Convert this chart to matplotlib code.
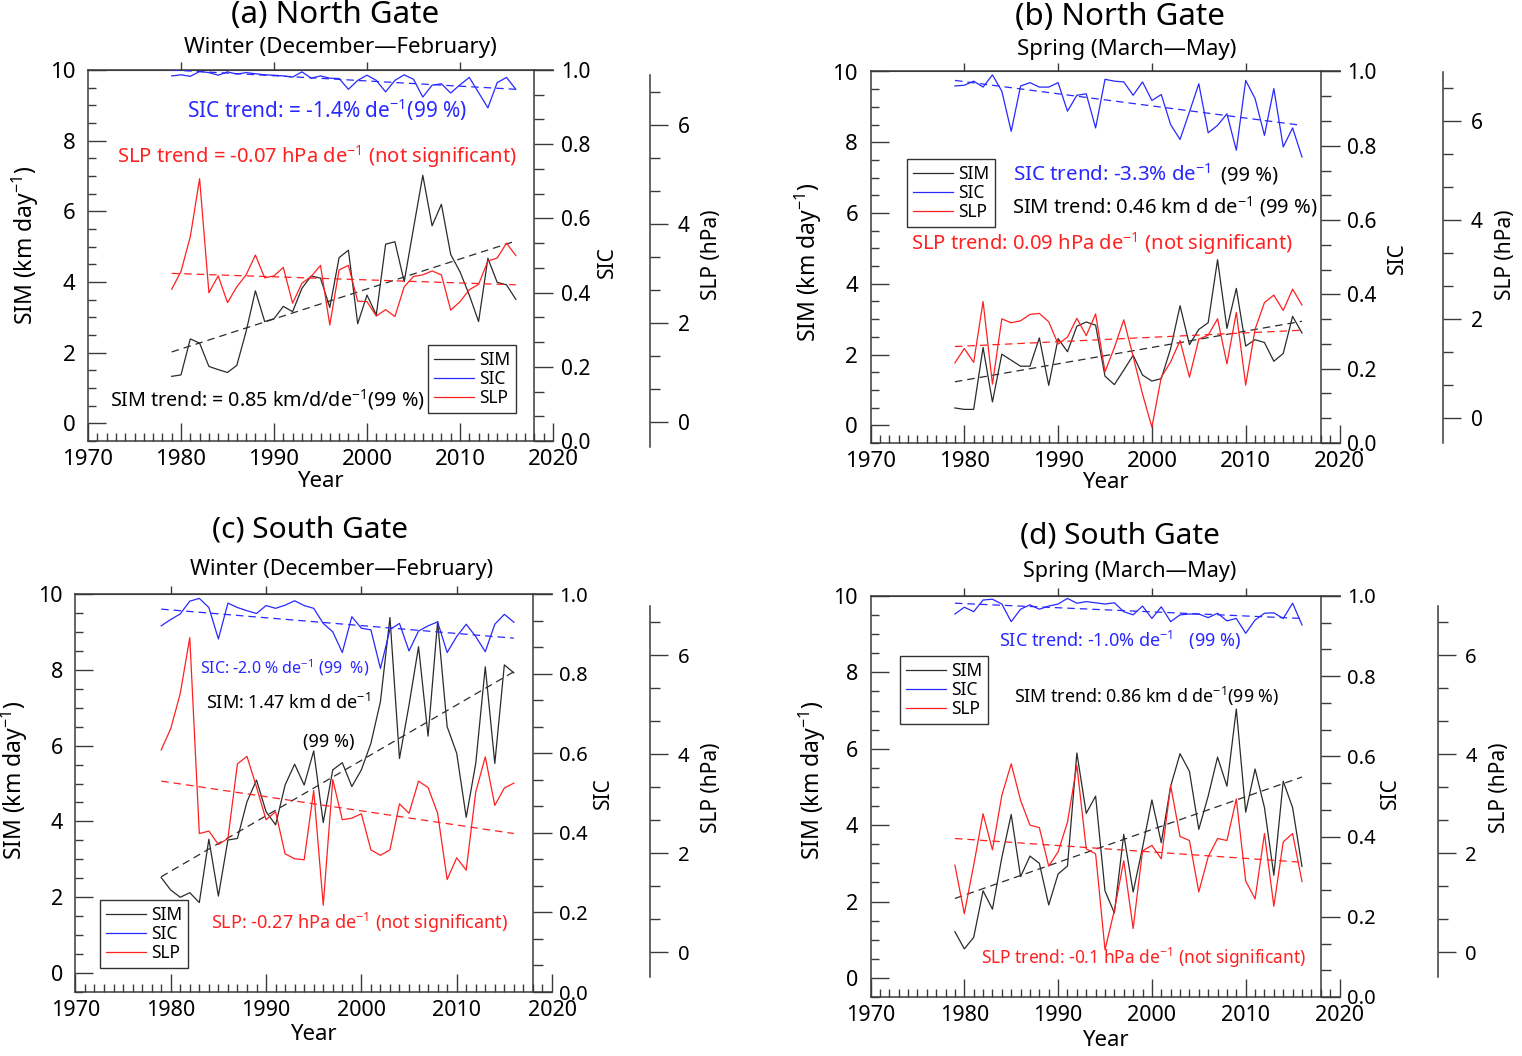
import matplotlib
matplotlib.use('Agg')
import matplotlib.pyplot as plt
from matplotlib.ticker import MultipleLocator, AutoMinorLocator, FormatStrFormatter
from matplotlib.lines import Line2D
import numpy as np

plt.rcParams['font.family'] = ['Noto Sans', 'DejaVu Sans']
plt.rcParams['mathtext.fontset'] = 'custom'
plt.rcParams['mathtext.rm'] = 'Noto Sans'
plt.rcParams['mathtext.it'] = 'Noto Sans:italic'
plt.rcParams['mathtext.default'] = 'regular'

W, H = 1522, 1056

#------------------------------------------------------------------------
# Data ------------------------------------------------------------------
#------------------------------------------------------------------------
years = np.arange(1979, 2017)
trend_years = [1979, 2016]

# (a) North Gate, winter
sim_a = [1.33, 1.37, 2.39, 2.27, 1.61, 1.52, 1.44, 1.64, 2.60, 3.75,
         2.88, 2.96, 3.31, 3.16, 3.82, 4.17, 4.11, 3.28, 4.69, 4.90,
         2.82, 3.63, 3.07, 5.07, 5.14, 4.01, 5.52, 7.02, 5.59, 6.20,
         4.78, 4.29, 3.63, 2.88, 4.67, 3.99, 3.92, 3.51]
sic_a = [0.984, 0.987, 0.983, 0.996, 0.993, 0.986, 0.995, 0.989, 0.993, 0.990,
         0.987, 0.986, 0.984, 0.981, 0.995, 0.978, 0.984, 0.978, 0.977, 0.948,
         0.972, 0.986, 0.972, 0.941, 0.972, 0.987, 0.975, 0.927, 0.959, 0.963,
         0.938, 0.960, 0.980, 0.939, 0.898, 0.966, 0.980, 0.948]
slp_a = [2.68, 3.04, 3.74, 4.91, 2.61, 2.95, 2.41, 2.73, 2.97, 3.37,
         2.91, 2.95, 3.12, 2.40, 2.80, 2.94, 3.16, 1.96, 3.07, 3.16,
         2.44, 2.43, 2.14, 2.27, 2.13, 2.73, 2.94, 2.97, 3.05, 2.97,
         2.26, 2.43, 2.67, 2.78, 3.25, 3.31, 3.61, 3.36]
sim_trend_a = [2.02, 5.16]
sic_trend_a = [1.000, 0.948]
slp_trend_a = [3.00, 2.77]

# (b) North Gate, spring
sim_b = [0.49, 0.45, 0.45, 2.20, 0.66, 2.01, 1.84, 1.67, 1.67, 2.47,
         1.13, 2.45, 2.08, 2.80, 2.92, 2.83, 1.39, 1.15, 1.56, 1.98,
         1.42, 1.25, 1.32, 2.17, 3.38, 2.28, 2.71, 2.90, 4.68, 2.74,
         3.87, 2.24, 2.42, 2.34, 1.81, 2.03, 3.08, 2.61]
sic_b = [0.961, 0.963, 0.974, 0.958, 0.991, 0.947, 0.839, 0.961, 0.970, 0.958,
         0.958, 0.970, 0.893, 0.936, 0.940, 0.848, 0.979, 0.974, 0.972, 0.936,
         0.972, 0.922, 0.938, 0.857, 0.817, 0.891, 0.967, 0.835, 0.855, 0.886,
         0.788, 0.976, 0.927, 0.828, 0.954, 0.797, 0.848, 0.770]
slp_b = [1.12, 1.41, 1.13, 2.36, 0.69, 2.01, 1.93, 1.97, 2.10, 2.12,
         1.95, 1.50, 1.64, 2.02, 1.67, 2.11, 0.94, 1.43, 1.99, 1.25,
         0.49, -0.18, 0.83, 1.14, 1.57, 0.83, 1.60, 1.68, 2.01, 1.10,
         2.14, 0.67, 1.80, 2.34, 2.49, 2.18, 2.61, 2.29]
sim_trend_b = [1.23, 2.94]
sic_trend_b = [0.976, 0.855]
slp_trend_b = [1.45, 1.78]

# (c) South Gate, winter
sim_c = [2.52, 2.19, 2.00, 2.12, 1.86, 3.53, 2.03, 3.51, 3.55, 4.52,
         5.09, 4.26, 3.91, 4.96, 5.51, 4.96, 5.86, 3.97, 5.36, 5.55,
         4.92, 5.36, 6.06, 7.16, 9.38, 5.66, 7.07, 8.61, 6.25, 9.27,
         6.50, 5.80, 4.11, 5.53, 8.08, 5.53, 8.13, 7.92]
sic_c = [0.920, 0.936, 0.950, 0.982, 0.989, 0.966, 0.887, 0.977, 0.966, 0.958,
         0.951, 0.971, 0.964, 0.972, 0.983, 0.971, 0.964, 0.926, 0.905, 0.853,
         0.943, 0.914, 0.910, 0.813, 0.911, 0.926, 0.857, 0.907, 0.920, 0.930,
         0.853, 0.893, 0.924, 0.893, 0.855, 0.924, 0.949, 0.929]
slp_c = [4.09, 4.52, 5.23, 6.36, 2.40, 2.45, 2.18, 2.30, 3.81, 3.96,
         3.34, 2.68, 2.84, 1.99, 1.89, 1.87, 3.27, 0.95, 3.49, 2.68,
         2.71, 2.80, 2.07, 1.96, 2.07, 3.00, 2.81, 3.46, 3.33, 2.81,
         1.47, 1.91, 1.66, 3.24, 3.95, 2.97, 3.32, 3.42]
sim_trend_c = [2.54, 7.95]
sic_trend_c = [0.962, 0.889]
slp_trend_c = [3.46, 2.40]

# (d) South Gate, spring
sim_d = [1.21, 0.76, 1.06, 2.28, 1.80, 3.15, 4.28, 2.65, 3.19, 3.00,
         1.91, 2.72, 2.93, 5.89, 4.31, 4.76, 2.28, 1.70, 3.76, 2.25,
         3.41, 4.66, 3.54, 5.02, 5.87, 5.41, 3.89, 4.76, 5.78, 5.02,
         7.04, 4.34, 5.47, 4.46, 2.69, 5.15, 4.46, 2.92]
sic_d = [0.955, 0.972, 0.961, 0.990, 0.992, 0.980, 0.936, 0.967, 0.978, 0.967,
         0.975, 0.980, 0.994, 0.982, 0.986, 0.983, 0.980, 0.983, 0.961, 0.953,
         0.975, 0.944, 0.973, 0.936, 0.953, 0.955, 0.955, 0.946, 0.957, 0.938,
         0.944, 0.907, 0.940, 0.957, 0.958, 0.944, 0.982, 0.928]
slp_d = [1.76, 0.78, 1.76, 2.80, 2.07, 3.17, 3.81, 3.07, 2.57, 2.52,
         1.74, 2.03, 2.63, 3.78, 2.09, 1.99, 0.05, 0.85, 1.85, 0.48,
         2.05, 2.16, 1.89, 3.37, 2.34, 2.26, 1.22, 1.93, 2.30, 2.26,
         3.10, 1.44, 1.08, 2.40, 0.93, 2.23, 2.40, 1.43]
sim_trend_d = [2.08, 5.26]
sic_trend_d = [0.982, 0.944]
slp_trend_d = [2.30, 1.82]

#------------------------------------------------------------------------
# Styles -----------------------------------------------------------------
#------------------------------------------------------------------------
c_sim = '#2b2b2b'
c_sic = '#2828ff'
c_slp = '#ff2020'
c_axis = '#3a3a3a'
dash = (0, (6, 4))

def rect(l, r, t, b):
    return [l/W, 1 - b/H, (r - l)/W, (b - t)/H]

def ftext(x, y, s, **kw):
    fig.text(x/W, 1 - y/H, s, **kw)

fig = plt.figure(figsize=(W/100, H/100), dpi=100)

def draw_panel(box, slp_box, slp_frac, sim, sic, slp, sim_tr, sic_tr, slp_tr,
               leg_xy, tick_fs):
    # SIM axis ----------------------------------------------------------
    ax = fig.add_axes(rect(*box))
    ax.plot(years, sim, color=c_sim, lw=0.9)
    ax.plot(trend_years, sim_tr, color=c_sim, lw=0.9, linestyle=dash)
    ax.set_xlim(1970, 2020)
    ax.set_ylim(-0.5, 10)
    ax.spines['right'].set_visible(False)
    for s in ['left', 'top', 'bottom']:
        ax.spines[s].set_color(c_axis)
        ax.spines[s].set_linewidth(1.1)
    ax.xaxis.set_major_locator(MultipleLocator(10))
    ax.xaxis.set_minor_locator(MultipleLocator(1))
    ax.yaxis.set_major_locator(MultipleLocator(2))
    ax.yaxis.set_minor_locator(MultipleLocator(0.5))
    ax.tick_params(axis='both', which='both', direction='in', color=c_axis,
                   right=False, top=False, labelsize=tick_fs, width=1.0)
    ax.tick_params(axis='both', which='major', length=13)
    ax.tick_params(axis='both', which='minor', length=6)
    ax.tick_params(axis='x', pad=6)
    ax.tick_params(axis='y', pad=9)
    top = ax.secondary_xaxis('top')
    top.set_xticks([1980, 1990, 2000, 2010])
    top.tick_params(direction='out', length=6, color=c_axis, labeltop=False, width=1.0)
    top.spines['top'].set_color(c_axis)

    # SIC axis ----------------------------------------------------------
    ax2 = ax.twinx()
    ax2.plot(years, sic, color=c_sic, lw=0.9)
    ax2.plot(trend_years, sic_tr, color=c_sic, lw=0.9, linestyle=dash)
    ax2.set_ylim(0, 1.0)
    for s in ['left', 'top', 'bottom']:
        ax2.spines[s].set_visible(False)
    ax2.spines['right'].set_position(('data', 2018))
    ax2.spines['right'].set_color(c_axis)
    ax2.spines['right'].set_linewidth(1.1)
    ax2.yaxis.set_major_locator(MultipleLocator(0.2))
    ax2.yaxis.set_minor_locator(AutoMinorLocator(3))
    ax2.yaxis.set_major_formatter(FormatStrFormatter('%.1f'))
    ax2.tick_params(axis='y', which='both', direction='out', color=c_axis,
                    labelsize=tick_fs - 1, pad=5, width=1.0)
    ax2.tick_params(axis='y', which='major', length=14)
    ax2.tick_params(axis='y', which='minor', length=7)

    # SLP axis ----------------------------------------------------------
    ax3 = fig.add_axes(rect(*slp_box))
    ax3.patch.set_visible(False)
    ax3.plot(years, slp, color=c_slp, lw=0.9)
    ax3.plot(trend_years, slp_tr, color=c_slp, lw=0.9, linestyle=dash)
    ax3.set_xlim(1970, 2020)
    ax3.set_ylim(-0.5, 7.0)
    for s in ['left', 'top', 'bottom']:
        ax3.spines[s].set_visible(False)
    ax3.spines['right'].set_position(('axes', slp_frac))
    ax3.spines['right'].set_color(c_axis)
    ax3.spines['right'].set_linewidth(1.1)
    ax3.xaxis.set_visible(False)
    ax3.yaxis.set_ticks_position('right')
    ax3.yaxis.set_major_locator(MultipleLocator(2))
    ax3.yaxis.set_minor_locator(AutoMinorLocator(3))
    ax3.tick_params(axis='y', which='both', direction='out', color=c_axis,
                    labelsize=tick_fs - 1, pad=7, width=1.0)
    ax3.tick_params(axis='y', which='major', length=13)
    ax3.tick_params(axis='y', which='minor', length=7)

    handles = [Line2D([], [], color=c_sim, lw=0.9),
               Line2D([], [], color=c_sic, lw=0.9),
               Line2D([], [], color=c_slp, lw=0.9)]
    leg = ax3.legend(handles, ['SIM', 'SIC', 'SLP'], loc='upper left',
                     bbox_to_anchor=(leg_xy[0]/W, 1 - leg_xy[1]/H),
                     bbox_transform=fig.transFigure, borderaxespad=0,
                     fontsize=12.5, fancybox=False, framealpha=1,
                     edgecolor='#333333', handlelength=2.3, handletextpad=0.3,
                     labelspacing=0.05, borderpad=0.35)
    leg.get_frame().set_linewidth(1.0)
    return ax

# (a) --------------------------------------------------------------------
draw_panel((88, 553, 70, 441), (88, 553, 75, 447), (650 - 88)/465,
           sim_a, sic_a, slp_a, sim_trend_a, sic_trend_a, slp_trend_a,
           (428, 345), 16)
# (b) --------------------------------------------------------------------
draw_panel((870.5, 1339.5, 71.5, 443), (870.5, 1339.5, 72, 443), (1443 - 870.5)/469,
           sim_b, sic_b, slp_b, sim_trend_b, sic_trend_b, slp_trend_b,
           (907, 159), 16)
# (c) --------------------------------------------------------------------
draw_panel((75.4, 552, 594, 992), (75.4, 552, 606, 977), (650 - 75.4)/476.6,
           sim_c, sic_c, slp_c, sim_trend_c, sic_trend_c, slp_trend_c,
           (100, 900), 15.5)
# (d) --------------------------------------------------------------------
draw_panel((870.5, 1339.5, 596, 997), (870.5, 1339.5, 606, 977), (1437.5 - 870.5)/469,
           sim_d, sic_d, slp_d, sim_trend_d, sic_trend_d, slp_trend_d,
           (900, 656), 15.5)

#------------------------------------------------------------------------
# Titles, axis labels and trend notes -----------------------------------
#------------------------------------------------------------------------
ftext(335, 15, '(a) North Gate', fontsize=22.5, ha='center', va='center')
ftext(340, 47, 'Winter (December\u2014February)', fontsize=16, ha='center', va='center')
ftext(1120, 17, '(b) North Gate', fontsize=22.5, ha='center', va='center')
ftext(1127, 49, 'Spring (March\u2014May)', fontsize=16, ha='center', va='center')
ftext(310, 530, '(c) South Gate', fontsize=21.5, ha='center', va='center')
ftext(342, 569, 'Winter (December\u2014February)', fontsize=15.5, ha='center', va='center')
ftext(1120, 536, '(d) South Gate', fontsize=21.5, ha='center', va='center')
ftext(1130, 571, 'Spring (March\u2014May)', fontsize=15.5, ha='center', va='center')

ylab = 'SIM (km day$^{-1}$)'
for (x, y) in [(25, 245), (808, 262), (14, 780), (812, 780)]:
    ftext(x, y, ylab, fontsize=16.5, rotation=90, ha='center', va='center')
for (x, y) in [(607, 262), (1397, 258), (603, 793), (1390, 793)]:
    ftext(x, y, 'SIC', fontsize=15, rotation=90, ha='center', va='center')
for (x, y) in [(712, 255), (1505, 255), (712, 788), (1500, 788)]:
    ftext(x, y, 'SLP (hPa)', fontsize=15, rotation=90, ha='center', va='center')
for (x, y) in [(320, 481), (1105, 483), (313, 1034), (1105, 1040)]:
    ftext(x, y, 'Year', fontsize=16, ha='center', va='center')

# (a)
ftext(187, 110, 'SIC trend: = -1.4% de$^{-1}$(99 %)', color=c_sic, fontsize=15, va='center')
ftext(117, 157, 'SLP trend = -0.07 hPa de$^{-1}$ (not significant)', color=c_slp, fontsize=14.5, va='center')
ftext(110, 400, 'SIM trend: = 0.85 km/d/de$^{-1}$(99 %)', color='black', fontsize=14.2, va='center')
# (b)
ftext(1013, 175, 'SIC trend: -3.3% de$^{-1}$', color=c_sic, fontsize=14.8, va='center')
ftext(1221, 175, '(99 %)', color='black', fontsize=14.5, va='center')
ftext(1012, 207, 'SIM trend: 0.46 km d de$^{-1}$ (99 %)', color='black', fontsize=14.5, va='center')
ftext(911, 244, 'SLP trend: 0.09 hPa de$^{-1}$ (not significant)', color=c_slp, fontsize=14.5, va='center')
# (c)
ftext(200, 668, 'SIC: -2.0 % de$^{-1}$ (99  %)', color=c_sic, fontsize=11.5, va='center')
ftext(206, 703, 'SIM: 1.47 km d de$^{-1}$', color='black', fontsize=13, va='center')
ftext(303, 742, '(99 %)', color='black', fontsize=13, va='center')
ftext(211, 923, 'SLP: -0.27 hPa de$^{-1}$ (not significant)', color=c_slp, fontsize=13, va='center')
# (d)
ftext(999, 640, 'SIC trend: -1.0% de$^{-1}$   (99 %)', color=c_sic, fontsize=13, va='center')
ftext(1014, 696, 'SIM trend: 0.86 km d de$^{-1}$(99 %)', color='black', fontsize=12.8, va='center')
ftext(981, 958, 'SLP trend: -0.1 hPa de$^{-1}$ (not significant)', color=c_slp, fontsize=12.5, va='center')

plt.savefig('out.png', dpi=100)
